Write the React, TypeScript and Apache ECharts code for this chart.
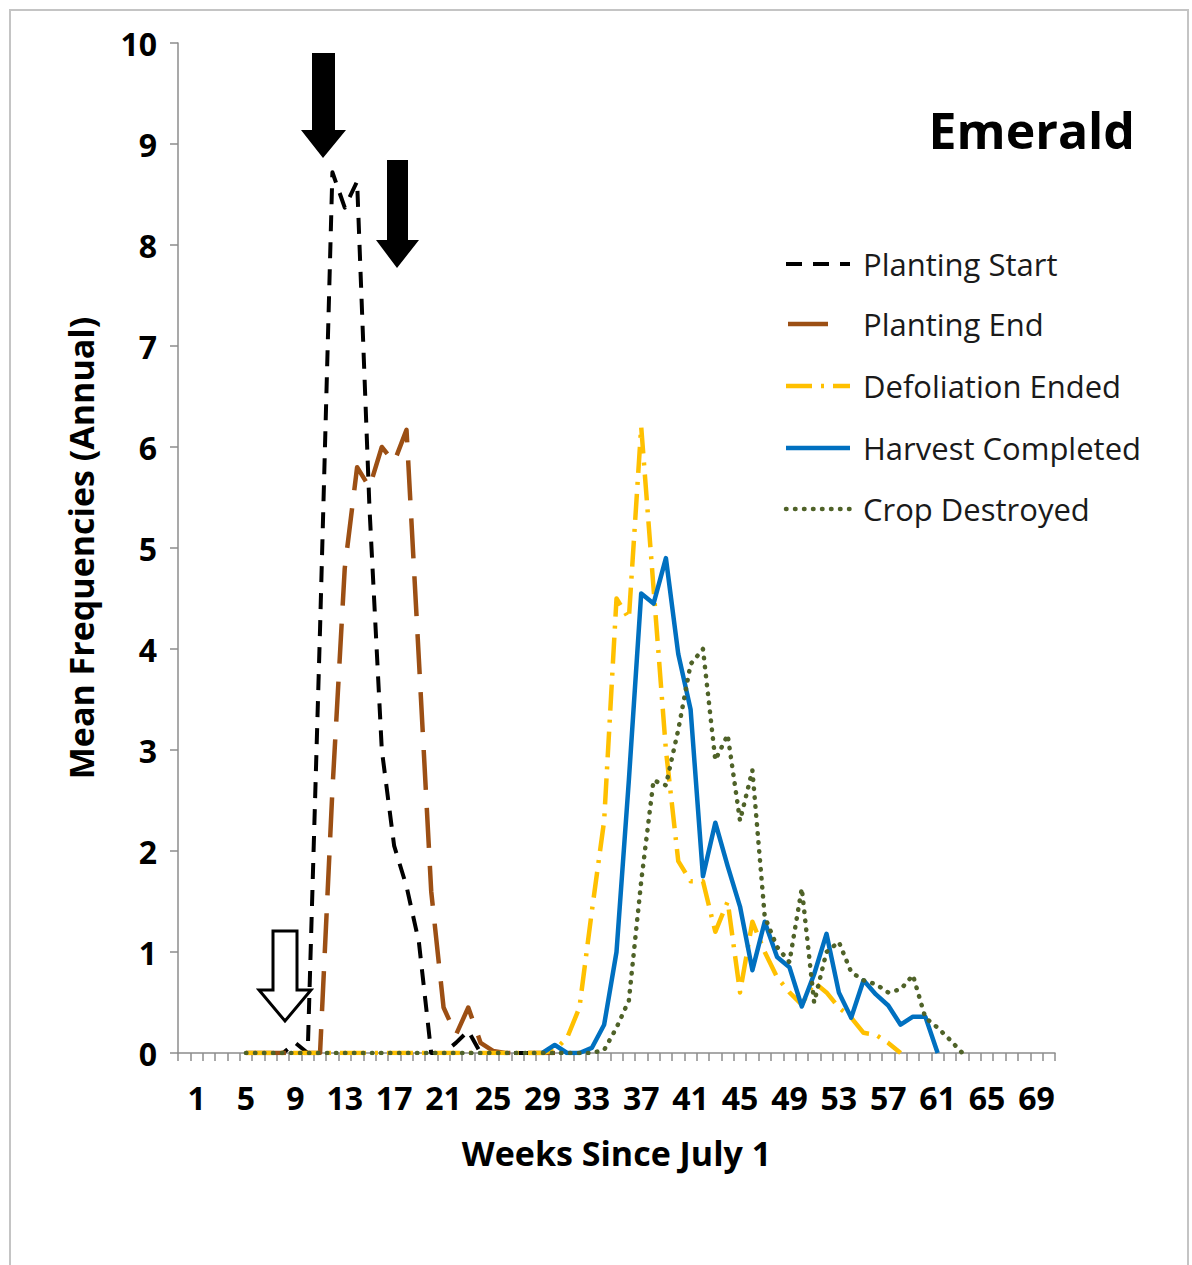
import React, { useEffect, useRef } from "react";
import * as echarts from "echarts";

// ---- categories / ticks ----
const weekCategories: string[] = Array.from({ length: 71 }, (_, i) => String(i));
const xTickLabels = ["1", "5", "9", "13", "17", "21", "25", "29", "33", "37", "41", "45", "49", "53", "57", "61", "65", "69"];
const yMin = 0;
const yMax = 10;
const yInterval = 1;

// ---- series values (each starts at the given week) ----
const plantingStartFrom = 5;
const plantingStart = [0, 0, 0, 0, 0.1, 0, 4.2, 8.72, 8.37, 8.63, 5.4, 3.0, 2.05, 1.65, 1.1, 0, 0, 0.1, 0.22, 0, 0, 0, 0, 0, 0, 0];

const plantingEndFrom = 5;
const plantingEnd = [0, 0, 0, 0, 0, 0, 0, 2.6, 4.8, 5.8, 5.6, 6.0, 5.85, 6.17, 3.9, 1.6, 0.45, 0.18, 0.45, 0.1, 0.02, 0, 0, 0, 0, 0];

const defoliationFrom = 5;
const defoliation = [
  0, 0, 0, 0, 0, 0, 0, 0, 0, 0, 0, 0, 0, 0, 0, 0, 0, 0, 0, 0, 0, 0, 0, 0, 0,
  0.03, 0.15, 0.45, 1.4, 2.3, 4.5, 4.3, 6.2, 4.6, 3.0, 1.9, 1.7, 1.7, 1.2, 1.5, 0.6, 1.3, 1.0, 0.75,
  0.6, 0.48, 0.7, 0.6, 0.45, 0.35, 0.2, 0.18, 0.1, 0,
];

const harvestFrom = 29;
const harvest = [
  0, 0.08, 0, 0, 0.05, 0.28, 1.0, 2.7, 4.55, 4.45, 4.9, 3.95, 3.4, 1.75, 2.28, 1.85, 1.45, 0.82, 1.3,
  0.95, 0.85, 0.46, 0.78, 1.18, 0.6, 0.35, 0.72, 0.58, 0.47, 0.28, 0.36, 0.36, 0,
];

const cropDestroyedFrom = 5;
const cropDestroyed = [
  0, 0, 0, 0, 0, 0, 0, 0, 0, 0, 0, 0, 0, 0, 0, 0, 0, 0, 0, 0, 0, 0, 0, 0, 0, 0, 0, 0, 0,
  0.03, 0.25, 0.52, 1.7, 2.7, 2.65, 3.2, 3.85, 4.0, 2.9, 3.15, 2.3, 2.8, 1.35, 1.05, 0.9, 1.63, 0.5,
  1.0, 1.1, 0.8, 0.72, 0.68, 0.6, 0.63, 0.77, 0.35, 0.25, 0.13, 0,
];

const seriesNames = ["Planting Start", "Planting End", "Defoliation Ended", "Harvest Completed", "Crop Destroyed"];
const chartTitle = "Emerald";
const xAxisTitle = "Weeks Since July 1";
const yAxisTitle = "Mean Frequencies (Annual)";

const pad = (from: number, values: number[]) =>
  weekCategories.map((_, i) => (i >= from && i - from < values.length ? values[i - from] : null));

const FONT = "'Open Sans', Lato, sans-serif";

const styles = [
  { color: "#000000", width: 4, type: [16, 11] as number[], cap: "butt" },
  { color: "#9C4F14", width: 4.5, type: [40, 18] as number[], cap: "butt" },
  { color: "#FFC000", width: 4.5, type: [26, 9, 3, 9] as number[], cap: "butt" },
  { color: "#0070C0", width: 4.5, type: "solid" as any, cap: "butt" },
  { color: "#4F6228", width: 4.5, type: [0.5, 8.5] as number[], cap: "round" },
];

const legendLineSpan = [
  [786, 850],
  [788, 830],
  [786, 850],
  [786, 850],
  [786, 850],
];

export default function App() {
  const ref = useRef<HTMLDivElement>(null);

  useEffect(() => {
    if (!ref.current) return;
    const chart = echarts.init(ref.current, null, { renderer: "svg" });

    const seriesData = [
      pad(plantingStartFrom, plantingStart),
      pad(plantingEndFrom, plantingEnd),
      pad(defoliationFrom, defoliation),
      pad(harvestFrom, harvest),
      pad(cropDestroyedFrom, cropDestroyed),
    ];

    const legendTop = [264, 324, 386, 448, 509];
    const legendGraphics: any[] = [];
    seriesNames.forEach((name, i) => {
      const s = styles[i];
      legendGraphics.push({
        type: "line",
        shape: { x1: legendLineSpan[i][0], y1: legendTop[i], x2: legendLineSpan[i][1], y2: legendTop[i] },
        style: {
          stroke: s.color,
          lineWidth: s.width,
          lineDash: Array.isArray(s.type) ? s.type : null,
          lineCap: s.cap,
        },
        silent: true,
      });
      legendGraphics.push({
        type: "text",
        x: 863,
        y: legendTop[i],
        style: {
          text: name,
          font: `31px ${FONT}`,
          fill: "#1a1a1a",
          verticalAlign: "middle",
          align: "left",
        },
        silent: true,
      });
    });

    chart.setOption({
      animation: false,
      backgroundColor: "#ffffff",
      title: {
        text: chartTitle,
        right: 52,
        top: 100,
        textStyle: { fontFamily: FONT, fontSize: 50, fontWeight: "bold", color: "#000" },
      },
      grid: { left: 178, right: 137, top: 43, bottom: 212, outerBoundsMode: "none" } as any,
      xAxis: {
        type: "category",
        data: weekCategories,
        boundaryGap: true,
        name: xAxisTitle,
        nameLocation: "middle",
        nameGap: 83,
        nameTextStyle: { fontFamily: FONT, fontSize: 34, fontWeight: "bold", color: "#000" },
        axisLine: { show: true, lineStyle: { color: "#8c8c8c", width: 1.5 } },
        axisTick: { show: true, interval: 0, length: 8, lineStyle: { color: "#8c8c8c", width: 1.5 } },
        axisLabel: {
          interval: (_i: number, v: string) => xTickLabels.includes(v),
          margin: 28,
          fontFamily: FONT,
          fontSize: 32,
          fontWeight: "bold",
          color: "#000",
        },
        splitLine: { show: false },
      },
      yAxis: {
        type: "value",
        min: yMin,
        max: yMax,
        interval: yInterval,
        name: yAxisTitle,
        nameLocation: "middle",
        nameGap: 80,
        nameTextStyle: { fontFamily: FONT, fontSize: 34, fontWeight: "bold", color: "#000" },
        axisLine: { show: true, lineStyle: { color: "#8c8c8c", width: 1.5 } },
        axisTick: { show: true, length: 8, lineStyle: { color: "#8c8c8c", width: 1.5 } },
        axisLabel: { margin: 21, fontFamily: FONT, fontSize: 32, fontWeight: "bold", color: "#000" },
        splitLine: { show: false },
      },
      series: seriesNames.map((name, i) => ({
        name,
        type: "line",
        data: seriesData[i],
        showSymbol: false,
        symbol: "none",
        connectNulls: false,
        lineStyle: {
          color: styles[i].color,
          width: styles[i].width,
          type: styles[i].type,
          cap: styles[i].cap,
          join: "round",
        },
        itemStyle: { color: styles[i].color },
        z: 2 + i,
      })),
      graphic: [
        {
          type: "rect",
          shape: { x: 10, y: 10, width: 1178, height: 1300 },
          style: { fill: "none", stroke: "#c4c4c4", lineWidth: 2 },
          silent: true,
          z: -1,
        },
        {
          type: "polygon",
          shape: { points: [[312, 53], [335, 53], [335, 130], [346, 130], [323, 158], [301, 130], [312, 130]] },
          style: { fill: "#000" },
          silent: true,
        },
        {
          type: "polygon",
          shape: { points: [[387, 160], [408, 160], [408, 240], [419, 240], [397, 268], [376, 240], [387, 240]] },
          style: { fill: "#000" },
          silent: true,
        },
        {
          type: "polygon",
          shape: { points: [[273, 931], [297, 931], [297, 990], [311, 990], [285, 1021], [259, 990], [273, 990]] },
          style: { fill: "#fff", stroke: "#000", lineWidth: 3, lineJoin: "miter" },
          silent: true,
          z: 10,
        },
        ...legendGraphics,
      ],
    });

    return () => chart.dispose();
  }, []);

  return (
    <div
      ref={ref}
      style={{ position: "absolute", left: 0, top: 0, width: 1192, height: 1265, background: "#fff" }}
    />
  );
}
